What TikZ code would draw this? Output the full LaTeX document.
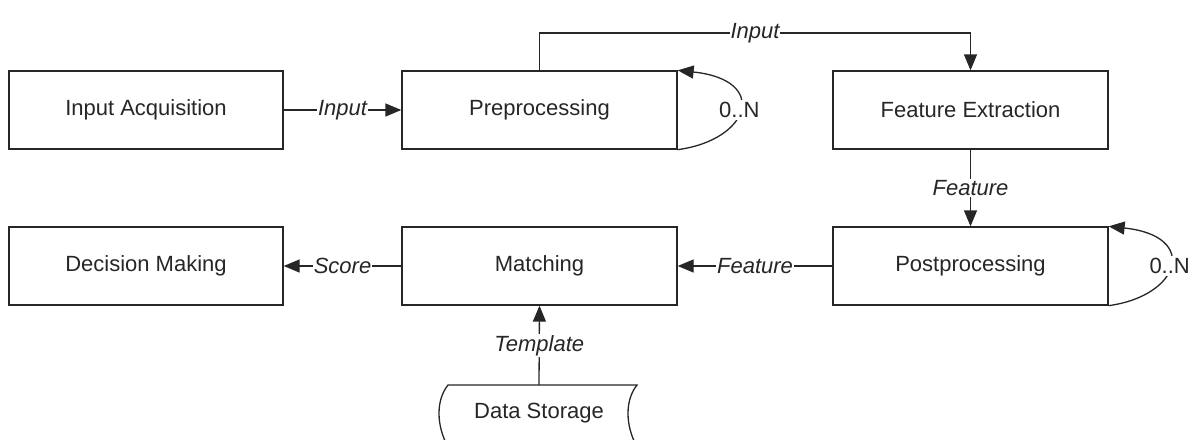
\documentclass[tikz,border=0pt]{standalone}
\usepackage{fontspec}
\setmainfont{Liberation Sans}
\usetikzlibrary{arrows.meta}
\definecolor{ink}{HTML}{262626}
\tikzset{
  blk/.style={draw=ink, line width=1.3pt, minimum width=274pt, minimum height=78pt, inner sep=0pt,
    text=ink, font=\fontsize{22}{26}\selectfont},
  lbl/.style={fill=white, inner sep=1pt, text=ink, font=\fontsize{22}{26}\selectfont\itshape},
  mult/.style={fill=white, inner sep=2pt, text=ink, font=\fontsize{22}{26}\selectfont},
  conn/.style={draw=ink, line width=1.3pt},
  arr/.style={conn, -{Triangle[length=16pt,width=13pt]}},
}
\begin{document}
\begin{tikzpicture}[x=1pt,y=-1pt]
\useasboundingbox (0,0) rectangle (1191,439);
\node[blk] (acq) at (146,110) {Input Acquisition};
\node[blk, minimum width=275pt] (pre) at (539.5,110) {Preprocessing};
\node[blk, minimum width=275pt] (fe) at (970.5,110) {Feature Extraction};
\node[blk] (dec) at (146,266) {Decision Making};
\node[blk, minimum width=275pt] (mat) at (539.5,266) {Matching};
\node[blk, minimum width=275pt] (post) at (970.5,266) {Postprocessing};
% data storage
\node[text=ink, font=\fontsize{22}{26}\selectfont, inner sep=0pt] (ds) at (539,413) {Data Storage};
\coordinate (dstop) at (539,385);
\draw[conn] (448,447) .. controls (436,425) and (436,400) .. (448,385) -- (637,385)
  .. controls (625,400) and (625,425) .. (637,447);
% connectors
\draw[arr] (acq.east) -- node[lbl] {Input} (pre.west);
\coordinate (top) at (0,33);
\draw[arr] (pre.north) -- (pre.north |- top) -- node[lbl] {Input} (fe.north |- top) -- (fe.north);
\draw[arr] (fe.south) -- node[lbl] {Feature} (post.north);
\draw[arr] (post.west) -- node[lbl] {Feature} (mat.east);
\draw[arr] (mat.west) -- node[lbl] {Score} (dec.east);
\draw[arr] (dstop) -- node[lbl] {Template} (mat.south);
% self loops
\draw[arr] (pre.south east) .. controls (750,140) and (770,80) .. node[mult, pos=0.5] {0..N} (pre.north east);
\draw[arr] (post.south east) .. controls (1180,296) and (1200,236) .. node[mult, pos=0.5] {0..N} (post.north east);
\end{tikzpicture}
\end{document}
